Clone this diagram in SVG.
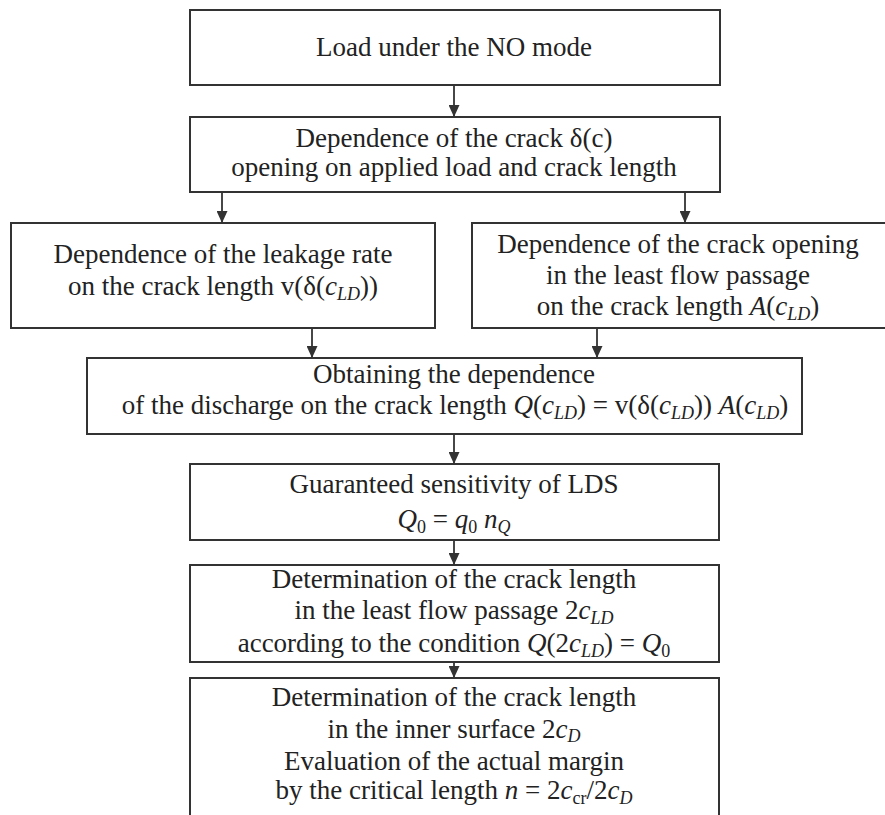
<svg xmlns="http://www.w3.org/2000/svg" width="885" height="815" viewBox="0 0 885 815">
<style>
.box{fill:#fff;stroke:#333;stroke-width:2}
.t{font-family:"Liberation Serif","Times New Roman",serif;font-size:27px;fill:#222;text-anchor:middle}
.i{font-style:italic}
.s{font-size:18px}
.c{stroke:#333;stroke-width:1.8;fill:none}
</style>
<defs>
<marker id="ah" markerUnits="userSpaceOnUse" viewBox="0 0 12 11" markerWidth="12" markerHeight="11" refX="12" refY="5.5" orient="auto">
<path d="M0,0 L12,5.5 L0,11 z" fill="#333"/>
</marker>
</defs>
<rect width="885" height="815" fill="#fff"/>
<g id="connectors">
<line class="c" x1="454" y1="85" x2="454" y2="117" marker-end="url(#ah)"/>
<line class="c" x1="222" y1="192" x2="222" y2="223" marker-end="url(#ah)"/>
<line class="c" x1="685" y1="192" x2="685" y2="223" marker-end="url(#ah)"/>
<line class="c" x1="312" y1="328" x2="312" y2="358" marker-end="url(#ah)"/>
<line class="c" x1="597" y1="328" x2="597" y2="358" marker-end="url(#ah)"/>
<line class="c" x1="454" y1="434" x2="454" y2="464" marker-end="url(#ah)"/>
<line class="c" x1="454" y1="540" x2="454" y2="565" marker-end="url(#ah)"/>
<line class="c" x1="454" y1="662" x2="454" y2="678" marker-end="url(#ah)"/>
</g>
<g id="n1">
<rect class="box" x="190" y="10" width="530" height="75"/>
<text class="t" x="454" y="56">Load under the NO mode</text>
</g>
<g id="n2">
<rect class="box" x="190" y="117" width="530" height="75"/>
<text class="t" x="454" y="147">Dependence of the crack δ(c)</text>
<text class="t" x="454" y="176">opening on applied load and crack length</text>
</g>
<g id="n3">
<rect class="box" x="11" y="223" width="424" height="105"/>
<text class="t" x="223" y="263">Dependence of the leakage rate</text>
<text class="t" x="223" y="295">on the crack length v(δ(<tspan class="i">c</tspan><tspan class="i s" dy="5">LD</tspan><tspan dy="-5">))</tspan></text>
</g>
<g id="n4">
<rect class="box" x="472" y="223" width="420" height="105"/>
<text class="t" x="678" y="253">Dependence of the crack opening</text>
<text class="t" x="678" y="284">in the least flow passage</text>
<text class="t" x="678" y="315">on the crack length <tspan class="i">A</tspan>(<tspan class="i">c</tspan><tspan class="i s" dy="5">LD</tspan><tspan dy="-5">)</tspan></text>
</g>
<g id="n5">
<rect class="box" x="87" y="358" width="715" height="76"/>
<text class="t" x="454" y="383">Obtaining the dependence</text>
<text class="t" x="455" y="414">of the discharge on the crack length <tspan class="i">Q</tspan>(<tspan class="i">c</tspan><tspan class="i s" dy="5">LD</tspan><tspan dy="-5">) = v(δ(</tspan><tspan class="i">c</tspan><tspan class="i s" dy="5">LD</tspan><tspan dy="-5">)) </tspan><tspan class="i">A</tspan>(<tspan class="i">c</tspan><tspan class="i s" dy="5">LD</tspan><tspan dy="-5">)</tspan></text>
</g>
<g id="n6">
<rect class="box" x="190" y="464" width="529" height="76"/>
<text class="t" x="454" y="493">Guaranteed sensitivity of LDS</text>
<text class="t" x="454" y="528"><tspan class="i">Q</tspan><tspan class="s" dy="5">0</tspan><tspan dy="-5"> = </tspan><tspan class="i">q</tspan><tspan class="s" dy="5">0</tspan><tspan dy="-5"> </tspan><tspan class="i">n</tspan><tspan class="i s" dy="5">Q</tspan></text>
</g>
<g id="n7">
<rect class="box" x="190" y="565" width="529" height="97"/>
<text class="t" x="454" y="588">Determination of the crack length</text>
<text class="t" x="454" y="619">in the least flow passage 2<tspan class="i">c</tspan><tspan class="i s" dy="5">LD</tspan></text>
<text class="t" x="454" y="652">according to the condition <tspan class="i">Q</tspan>(2<tspan class="i">c</tspan><tspan class="i s" dy="5">LD</tspan><tspan dy="-5">) = </tspan><tspan class="i">Q</tspan><tspan class="s" dy="5">0</tspan></text>
</g>
<g id="n8">
<rect class="box" x="190" y="678" width="529" height="160"/>
<text class="t" x="454" y="706">Determination of the crack length</text>
<text class="t" x="454" y="738">in the inner surface 2<tspan class="i">c</tspan><tspan class="i s" dy="4">D</tspan></text>
<text class="t" x="454" y="770">Evaluation of the actual margin</text>
<text class="t" x="454" y="799">by the critical length <tspan class="i">n</tspan> = 2<tspan class="i">c</tspan><tspan class="s" dy="5">cr</tspan><tspan dy="-5">/2</tspan><tspan class="i">c</tspan><tspan class="i s" dy="5">D</tspan></text>
</g>
</svg>
